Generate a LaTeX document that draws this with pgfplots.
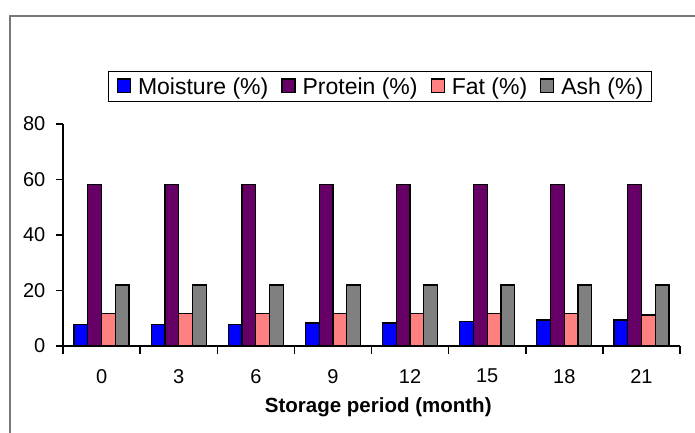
\documentclass[border=0pt]{standalone}
\usepackage{fontspec}
\setmainfont{Liberation Sans}
\usepackage{pgfplots}
\pgfplotsset{compat=1.18}

\definecolor{moist}{RGB}{0,0,255}
\definecolor{prot}{RGB}{102,0,102}
\definecolor{fat}{RGB}{255,128,128}
\definecolor{ash}{RGB}{128,128,128}
\definecolor{frame}{RGB}{120,120,120}

\begin{document}
\begin{tikzpicture}
\useasboundingbox (0pt,0pt) rectangle (695pt,-433pt);
\begin{axis}[
  at={(63pt,-346pt)}, anchor=south west,
  scale only axis, width=617pt, height=222pt,
  xmin=-0.5, xmax=7.5, ymin=0, ymax=80,
  axis x line=bottom, axis y line=left,
  axis line style={-, line width=1.5pt},
  ybar=0pt, bar width=13.75pt,
  tick align=outside,
  major tick length=7.5pt,
  tick style={black, line width=1.5pt},
  ytick={0,20,...,80},
  xtick={-0.5,0.5,...,7.5},
  xticklabels={},
  extra x ticks={0,1,...,7},
  extra x tick labels={0,3,6,9,12,15,18,21},
  extra x tick style={major tick length=0pt, tick style={draw=none},
    xticklabel style={inner sep=0pt, anchor=north, yshift=-23pt}},
  yticklabel style={inner sep=0pt, anchor=east, xshift=-10pt},
  ticklabel style={font=\fontsize{20}{24}\selectfont},
  /pgf/number format/assume math mode=true,
  xlabel={\bfseries Storage period (month)},
  xlabel style={font=\fontsize{20.5}{24}\selectfont, at={(axis description cs:0.511,-0.232)}, anchor=north, inner sep=0pt},
  legend columns=4,
  legend style={at={(axis description cs:0.5138,1.169)}, anchor=center,
    draw=black, line width=1.3pt, inner xsep=8pt, inner ysep=4pt,
    font=\fontsize{23}{27}\selectfont,
    nodes={inner xsep=0pt, inner ysep=2pt},
    /tikz/every odd column/.append style={column sep=7pt},
    /tikz/every even column/.append style={column sep=13pt}},
  legend image code/.code={\draw[#1, line width=1.2pt] (0pt,-6pt) rectangle (13pt,7.5pt);},
  every axis plot/.append style={draw=black, line width=1.2pt},
]
\addplot[fill=moist] coordinates {(0,7.7) (1,7.7) (2,7.7) (3,8.3) (4,8.3) (5,8.9) (6,9.4) (7,9.4)};
\addplot[fill=prot] coordinates {(0,58.3) (1,58.3) (2,58.3) (3,58.3) (4,58.3) (5,58.3) (6,58.3) (7,58.3)};
\addplot[fill=fat] coordinates {(0,11.8) (1,11.8) (2,11.8) (3,11.8) (4,11.8) (5,11.8) (6,11.8) (7,11.2)};
\addplot[fill=ash] coordinates {(0,22.0) (1,22.0) (2,22.0) (3,22.0) (4,22.0) (5,22.0) (6,22.0) (7,22.0)};
\legend{Moisture (\%), Protein (\%), Fat (\%), Ash (\%)}
\end{axis}
\draw[frame, line width=2.2pt] (10pt,-433pt) -- (10pt,-16pt) -- (695pt,-16pt);
\end{tikzpicture}
\end{document}
